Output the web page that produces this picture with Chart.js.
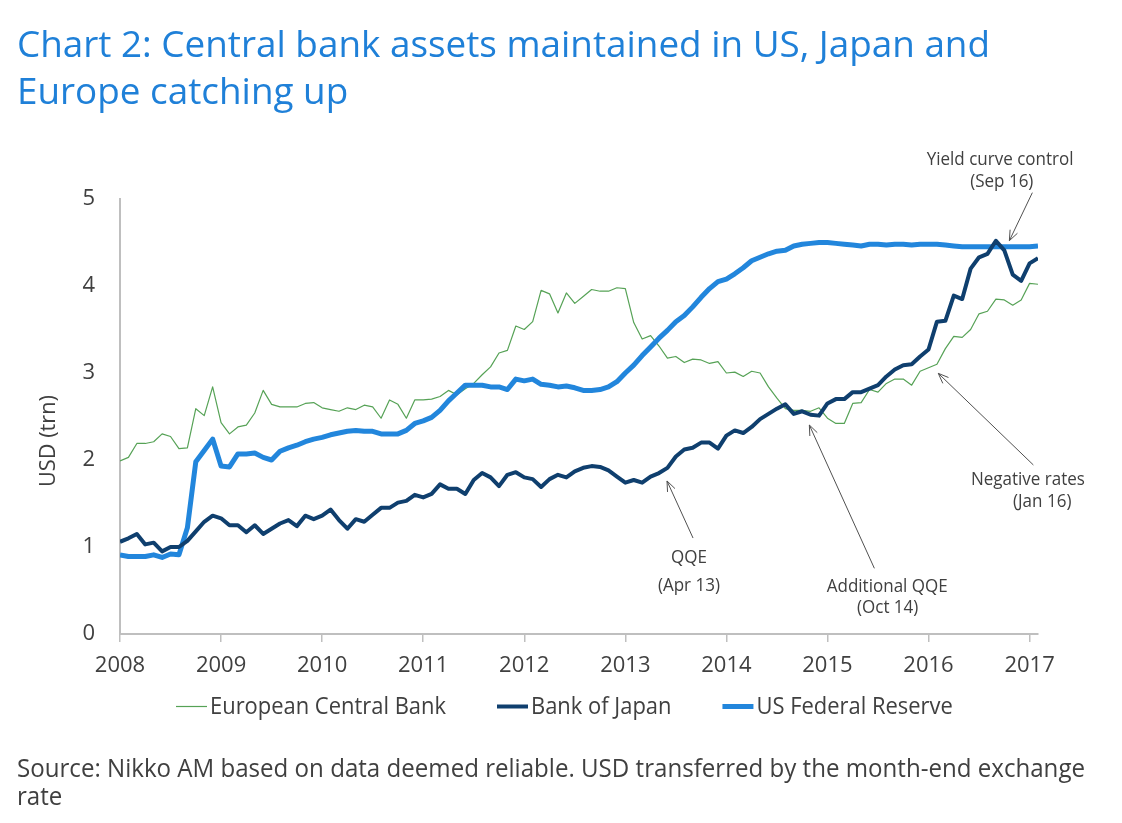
<!DOCTYPE html>
<html>
<head>
<meta charset="utf-8">
<script src="https://cdn.jsdelivr.net/npm/chart.js@4.4.1/dist/chart.umd.min.js"></script>
<style>
html,body{margin:0;padding:0;background:#ffffff;width:1122px;height:823px;overflow:hidden;}
#c{position:absolute;left:0;top:0;}
</style>
</head>
<body>
<canvas id="c" width="1122" height="823"></canvas>
<script>
// ---------- DATA ----------
const yearLabels = ['2008','2009','2010','2011','2012','2013','2014','2015','2016','2017'];
const seriesNames = ['European Central Bank','Bank of Japan','US Federal Reserve'];
// monthly values, Jan 2008 .. Feb 2017, USD trillion
const ecbValues = [1.99,2.03,2.19,2.19,2.21,2.30,2.27,2.13,2.14,2.59,2.51,2.84,
  2.43,2.30,2.38,2.40,2.54,2.80,2.64,2.61,2.61,2.61,2.65,2.66,
  2.60,2.58,2.56,2.60,2.58,2.63,2.61,2.48,2.69,2.64,2.48,2.69,
  2.69,2.70,2.73,2.80,2.75,2.82,2.88,2.98,3.07,3.23,3.26,3.54,
  3.50,3.59,3.95,3.91,3.69,3.92,3.80,3.88,3.96,3.94,3.94,3.98,
  3.97,3.58,3.39,3.43,3.31,3.17,3.19,3.12,3.16,3.15,3.11,3.13,
  3.00,3.01,2.96,3.02,3.00,2.84,2.71,2.59,2.57,2.57,2.56,2.60,
  2.48,2.42,2.42,2.65,2.66,2.81,2.78,2.88,2.93,2.93,2.86,3.02,
  3.06,3.10,3.28,3.42,3.41,3.50,3.68,3.71,3.85,3.84,3.78,3.84,
  4.03,4.02];
const bojValues = [1.06,1.10,1.15,1.03,1.05,0.95,1.00,1.00,1.07,1.18,1.29,1.36,
  1.33,1.25,1.25,1.17,1.25,1.15,1.21,1.27,1.31,1.24,1.36,1.32,
  1.36,1.43,1.31,1.21,1.32,1.29,1.37,1.45,1.45,1.51,1.53,1.60,
  1.57,1.61,1.72,1.67,1.67,1.61,1.77,1.85,1.80,1.70,1.83,1.86,
  1.80,1.78,1.69,1.78,1.83,1.80,1.87,1.91,1.93,1.92,1.88,1.81,
  1.74,1.77,1.74,1.81,1.85,1.91,2.04,2.12,2.14,2.20,2.20,2.13,
  2.28,2.34,2.31,2.38,2.47,2.53,2.59,2.64,2.53,2.56,2.52,2.51,
  2.65,2.70,2.70,2.78,2.78,2.82,2.86,2.96,3.04,3.09,3.10,3.19,
  3.27,3.59,3.60,3.89,3.85,4.20,4.33,4.37,4.52,4.41,4.13,4.06,
  4.26,4.32];
const fedValues = [0.91,0.89,0.89,0.89,0.91,0.88,0.92,0.91,1.22,1.98,2.11,2.24,
  1.93,1.92,2.07,2.07,2.08,2.03,2.00,2.10,2.14,2.17,2.21,2.24,
  2.26,2.29,2.31,2.33,2.34,2.33,2.33,2.30,2.30,2.30,2.34,2.42,
  2.45,2.49,2.57,2.68,2.77,2.86,2.86,2.86,2.84,2.84,2.81,2.93,
  2.91,2.93,2.87,2.86,2.84,2.85,2.83,2.80,2.80,2.81,2.84,2.90,
  3.00,3.09,3.20,3.30,3.40,3.49,3.59,3.66,3.76,3.87,3.97,4.05,
  4.08,4.14,4.21,4.29,4.33,4.37,4.40,4.41,4.46,4.48,4.49,4.50,
  4.50,4.49,4.48,4.47,4.46,4.48,4.48,4.47,4.48,4.48,4.47,4.48,
  4.48,4.48,4.47,4.46,4.45,4.45,4.45,4.45,4.45,4.45,4.45,4.45,
  4.45,4.46];
const yTickValues = [0,1,2,3,4,5];

// annotation texts (anchored in data units: month index, USD trn)
const notes = [
  {lines:[{t:'QQE', m:67.55, v:0.816},{t:'(Apr 13)', m:67.55, v:0.494}], from:[68.04,1.103], to:[64.95,1.759]},
  {lines:[{t:'Additional QQE', m:91.1, v:0.486},{t:'(Oct 14)', m:91.15, v:0.245}], from:[89.57,0.755], to:[81.85,2.402]},
  {lines:[{t:'Negative rates', m:107.8, v:1.713},{t:'(Jan 16)', m:109.5, v:1.46}], from:[108.45,1.943], to:[97.16,2.996]},
  {lines:[{t:'Yield curve control', m:104.5, v:5.391},{t:'(Sep 16)', m:104.7, v:5.141}], from:[108.33,5.073], to:[105.6,4.521]}
];

// ---------- HELPERS ----------
const FONT = '"Open Sans", "Noto Sans", sans-serif';
const GREY = '#404040';
function measure(ctx, s, size){ ctx.font = size + 'px ' + FONT; return ctx.measureText(s).width; }
function fitSx(ctx, s, size, target){ return target / measure(ctx, s, size); }
function txt(ctx, s, x, y, size, color, align, sx){
  ctx.save();
  ctx.font = size + 'px ' + FONT;
  ctx.fillStyle = color;
  ctx.textBaseline = 'alphabetic';
  ctx.textAlign = 'left';
  const w = ctx.measureText(s).width * sx;
  const x0 = align === 'center' ? x - w / 2 : (align === 'right' ? x - w : x);
  ctx.translate(x0, y);
  ctx.scale(sx, 1);
  ctx.fillText(s, 0, 0);
  ctx.restore();
  return w;
}
function arrow(ctx, x1, y1, x2, y2){
  ctx.save();
  ctx.strokeStyle = '#505050';
  ctx.lineWidth = 1;
  ctx.beginPath(); ctx.moveTo(x1, y1); ctx.lineTo(x2, y2); ctx.stroke();
  const a = Math.atan2(y2 - y1, x2 - x1), L = 11, sp = 0.38;
  ctx.beginPath();
  ctx.moveTo(x2 - L * Math.cos(a - sp), y2 - L * Math.sin(a - sp));
  ctx.lineTo(x2, y2);
  ctx.lineTo(x2 - L * Math.cos(a + sp), y2 - L * Math.sin(a + sp));
  ctx.stroke();
  ctx.restore();
}

const decor = {
  id: 'decor',
  afterDraw(chart){
    const ctx = chart.ctx;
    const xs = chart.scales.x, ys = chart.scales.y;
    // title
    const tl1 = 'Chart 2: Central bank assets maintained in US, Japan and';
    const tsx = fitSx(ctx, tl1, 37, 973);
    txt(ctx, tl1, 17, 57, 37, '#1f80d8', 'left', tsx);
    txt(ctx, 'Europe catching up', 17, 104, 37, '#1f80d8', 'left', tsx);
    // source
    const s1 = 'Source: Nikko AM based on data deemed reliable. USD transferred by the month-end exchange';
    const ssx = fitSx(ctx, s1, 25, 1068);
    txt(ctx, s1, 17, 777, 25, GREY, 'left', ssx);
    txt(ctx, 'rate', 17, 805, 25, GREY, 'left', ssx);
    // y title
    ctx.save();
    ctx.translate(47, 441);
    ctx.rotate(-Math.PI / 2);
    txt(ctx, 'USD (trn)', 0, 8, 22, GREY, 'center', fitSx(ctx, 'USD (trn)', 22, 92));
    ctx.restore();
    // legend
    const lsx = fitSx(ctx, seriesNames[0], 24, 236);
    let lx = 176;
    chart.data.datasets.forEach(ds => {
      ctx.save();
      ctx.strokeStyle = ds.borderColor;
      ctx.lineWidth = ds.borderWidth;
      ctx.beginPath(); ctx.moveTo(lx, 706.5); ctx.lineTo(lx + 31, 706.5); ctx.stroke();
      ctx.restore();
      const w = txt(ctx, ds.label, lx + 34, 714, 24, GREY, 'left', lsx);
      lx += 34 + w + 51;
    });
    // annotations
    const asx = fitSx(ctx, 'Additional QQE', 18, 121);
    notes.forEach(n => {
      n.lines.forEach(l => txt(ctx, l.t, xs.getPixelForValue(l.m), ys.getPixelForValue(l.v), 18, GREY, 'center', asx));
      arrow(ctx, xs.getPixelForValue(n.from[0]), ys.getPixelForValue(n.from[1]),
                 xs.getPixelForValue(n.to[0]), ys.getPixelForValue(n.to[1]));
    });
  }
};

Chart.defaults.font.family = FONT;
Chart.defaults.color = GREY;

const toPts = arr => arr.map((v, i) => ({x: i, y: v}));
const lastIndex = fedValues.length - 1;

new Chart(document.getElementById('c'), {
  type: 'line',
  data: {
    datasets: [
      {label: seriesNames[0], data: toPts(ecbValues), borderColor: '#56a256', borderWidth: 1.2, order: 3},
      {label: seriesNames[1], data: toPts(bojValues), borderColor: '#0f3f6e', borderWidth: 4, order: 1},
      {label: seriesNames[2], data: toPts(fedValues), borderColor: '#2286dc', borderWidth: 5, order: 2}
    ]
  },
  options: {
    responsive: false,
    animation: false,
    devicePixelRatio: 1,
    layout: {padding: {left: 0, top: 199, right: 84, bottom: 149}},
    elements: {
      point: {radius: 0, hoverRadius: 0},
      line: {tension: 0, borderJoinStyle: 'round', borderCapStyle: 'butt', fill: false}
    },
    plugins: {legend: {display: false}, title: {display: false}, tooltip: {enabled: false}},
    events: [],
    scales: {
      x: {
        type: 'linear', min: 0, max: lastIndex,
        afterFit: s => { s.height = 40; },
        afterBuildTicks: s => { s.ticks = yearLabels.map((_, i) => ({value: i * 12})); },
        ticks: {
          autoSkip: false, maxRotation: 0, padding: 11,
          font: {size: 22}, color: GREY,
          callback: v => yearLabels[Math.round(v / 12)]
        },
        grid: {display: true, drawOnChartArea: false, drawTicks: true, tickLength: 8, color: '#bfbfbf', lineWidth: 1.5},
        border: {display: true, color: '#bfbfbf', width: 2}
      },
      y: {
        type: 'linear', min: 0, max: 5,
        afterFit: s => { s.width = 120; },
        afterBuildTicks: s => { s.ticks = yTickValues.map(v => ({value: v})); },
        ticks: {padding: 25, font: {size: 22}, color: GREY},
        grid: {display: false, drawTicks: false},
        border: {display: true, color: '#bfbfbf', width: 2}
      }
    }
  },
  plugins: [decor]
});
</script>
</body>
</html>
